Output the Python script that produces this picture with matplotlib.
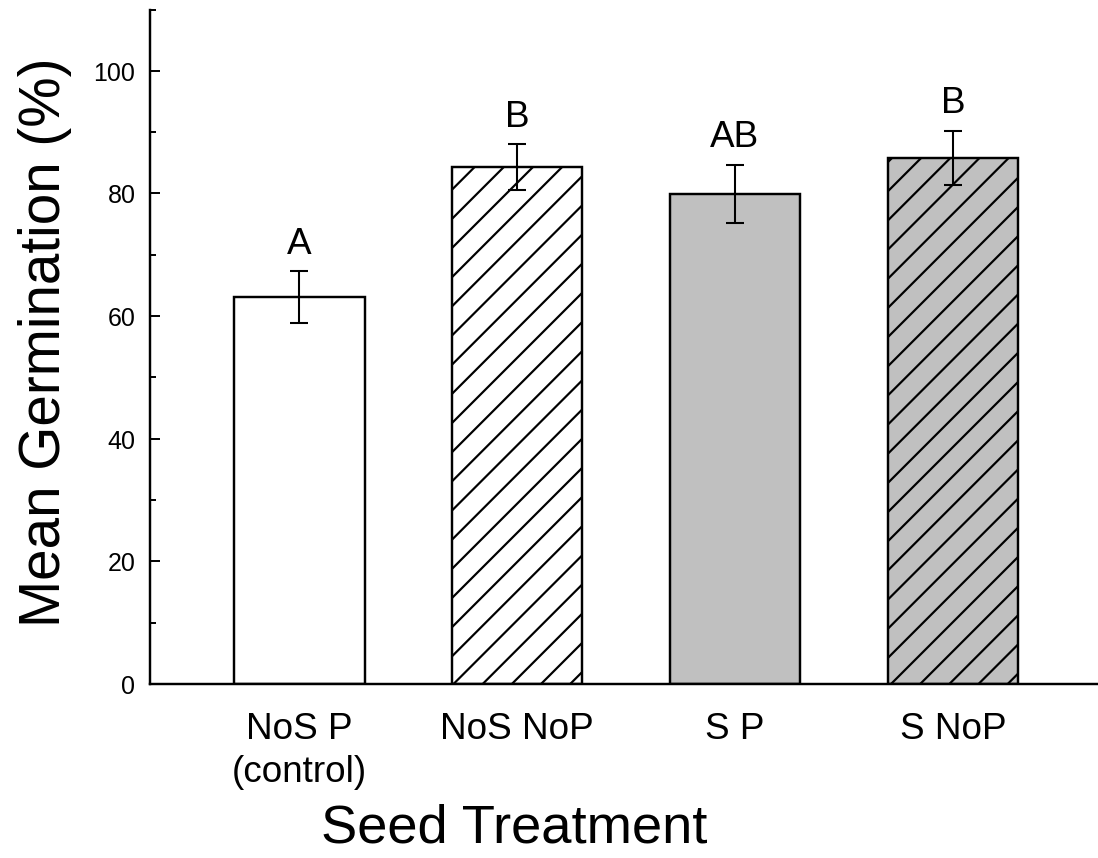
import matplotlib
matplotlib.use("Agg")
import matplotlib.pyplot as plt
import numpy as np

# germination by seed treatment (mean and standard error, %)
treatments = ["NoS P\n(control)", "NoS NoP", "S P", "S NoP"]
germination = [63.1, 84.3, 79.9, 85.8]
std_err = [4.2, 3.8, 4.8, 4.45]
groups = ["A", "B", "AB", "B"]
fills = ["white", "white", "#c0c0c0", "#c0c0c0"]
hatches = ["", "//", "", "//"]

# hatch spacing is tied to dpi, so work at a higher dpi with a smaller canvas
DPI = 175
W, H = 1098.5, 858.5
plt.rcParams["font.family"] = ["Liberation Sans", "DejaVu Sans"]
plt.rcParams["hatch.linewidth"] = 0.9

fig = plt.figure(figsize=(W / DPI, H / DPI), dpi=DPI)
ax = fig.add_axes([0.1366, 0.2028, 0.8634, 0.7855])

x = np.arange(len(treatments))
bars = ax.bar(x, germination, width=0.6, color=fills, edgecolor="black",
              linewidth=1.0, zorder=2)
for b, h in zip(bars, hatches):
    b.set_hatch(h)
ax.errorbar(x, germination, yerr=std_err, fmt="none", ecolor="black",
            elinewidth=0.85, capsize=3.9, capthick=0.85, zorder=3)

for xi, m, e, g in zip(x, germination, std_err, groups):
    ax.text(xi, m + e + 2.9, g, ha="center", va="baseline", fontsize=15.2)

ax.set_xlim(-0.684, 3.668)
ax.set_ylim(0, 110)
ax.set_yticks(np.arange(0, 101, 20))
ax.set_yticks(np.arange(10, 111, 20), minor=True)
ax.set_xticks(x)
ax.set_xticklabels(treatments, fontsize=15.2, linespacing=1.3)

ax.spines["top"].set_visible(False)
ax.spines["right"].set_visible(False)
for s in ("left", "bottom"):
    ax.spines[s].set_linewidth(1.0)
ax.tick_params(axis="y", which="major", direction="in", length=4.1, width=0.8,
               labelsize=10.3, pad=6)
ax.tick_params(axis="y", which="minor", direction="in", length=2.5, width=0.8)
ax.tick_params(axis="x", length=0, pad=11.5)

ax.set_ylabel("Mean Germination (%)", fontsize=23.3)
ax.set_xlabel("Seed Treatment", fontsize=22.4)
ax.yaxis.set_label_coords(-0.082, 0.508)
ax.xaxis.set_label_coords(0.384, -0.177)

fig.savefig("out.png", dpi=DPI)
